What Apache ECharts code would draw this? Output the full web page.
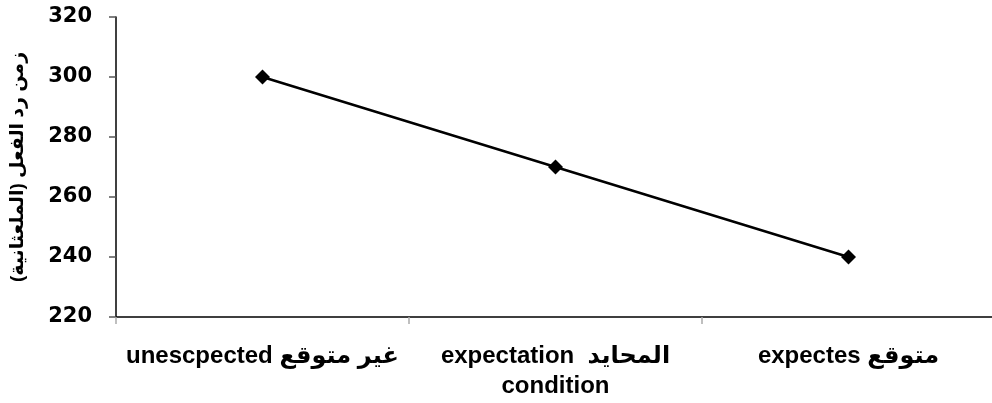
<!DOCTYPE html>
<html>
<head>
<meta charset="utf-8">
<script src="https://cdn.jsdelivr.net/npm/echarts@6/dist/echarts.min.js"></script>
<style>
  html, body { margin: 0; padding: 0; background: #fff; }
  #chart { width: 992px; height: 403px; }
</style>
</head>
<body>
<div id="chart"></div>
<script>
var categories = ['unescpected غير متوقع', 'expectation  المحايد\ncondition', 'expectes متوقع'];
var reactionTimes = [300, 270, 240];
var yTicks = [220, 240, 260, 280, 300, 320];

var myChart = echarts.init(document.getElementById('chart'));
var font = 'Arial, "Liberation Sans", "DejaVu Sans", sans-serif';

option = {
    animation: false,
    grid: {
        left: 116,
        right: -3,
        top: 17,
        bottom: 86,
        outerBoundsMode: 'none'
    },
    xAxis: {
        type: 'category',
        data: categories,
        boundaryGap: true,
        axisLine: { lineStyle: { color: '#000', width: 1.5 } },
        axisTick: { show: true, interval: 0, length: 7, lineStyle: { color: '#aaa', width: 1.5 } },
        axisLabel: {
            interval: 0,
            hideOverlap: false,
            margin: 24,
            color: '#000',
            fontFamily: font,
            fontWeight: 'bold',
            fontSize: 24,
            lineHeight: 30
        }
    },
    yAxis: {
        type: 'value',
        min: yTicks[0],
        max: yTicks[yTicks.length - 1],
        interval: 20,
        name: 'زمن رد الفعل (الملعثانية)',
        nameLocation: 'middle',
        nameRotate: 90,
        nameGap: 89,
        nameTextStyle: {
            color: '#000',
            fontFamily: font,
            fontWeight: 'bold',
            fontSize: 19
        },
        axisLine: { show: true, lineStyle: { color: '#000', width: 1.5 } },
        axisTick: { show: true, length: 7, lineStyle: { color: '#555', width: 1.5 } },
        splitLine: { show: false },
        axisLabel: {
            margin: 24,
            color: '#000',
            fontFamily: '"DejaVu Sans", sans-serif',
            fontWeight: 'bold',
            fontSize: 21
        }
    },
    series: [
        {
            type: 'line',
            data: reactionTimes,
            symbol: 'diamond',
            symbolSize: 15,
            itemStyle: { color: '#000' },
            lineStyle: { color: '#000', width: 2.5 }
        }
    ]
};
myChart.setOption(option);
window.onresize = myChart.resize;
</script>
</body>
</html>
